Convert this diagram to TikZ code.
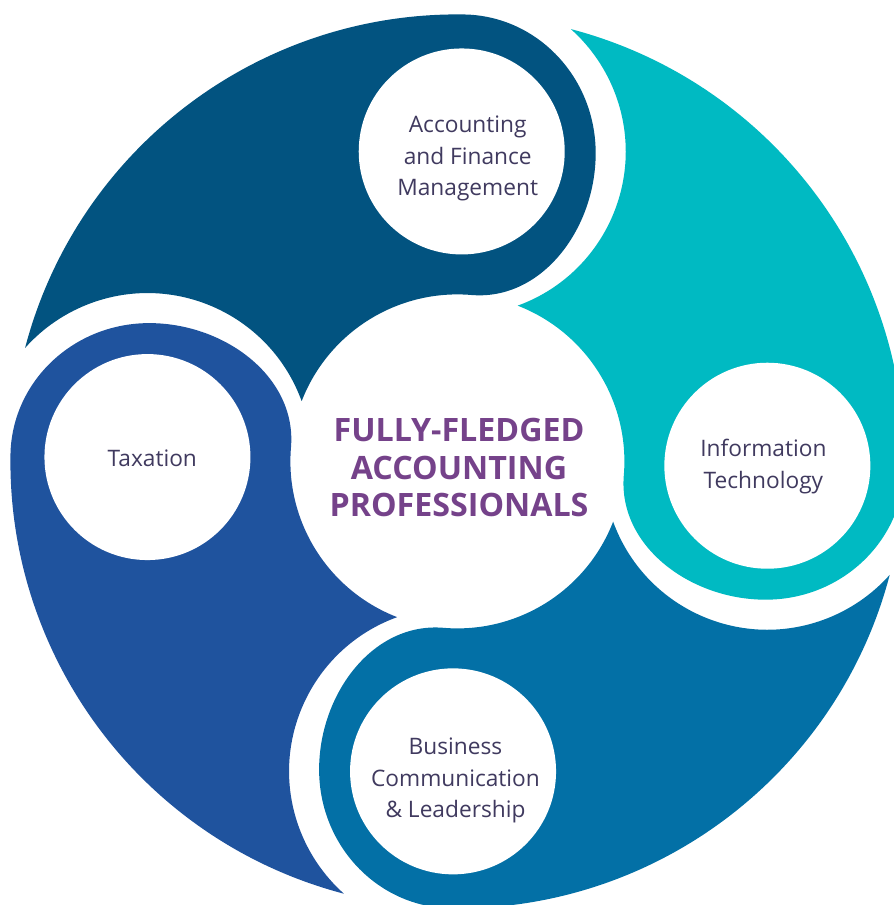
\documentclass[tikz,border=0pt]{standalone}
\usepackage{fontspec}
\setmainfont{Open Sans}
\definecolor{segA}{RGB}{2,83,128}
\definecolor{segI}{RGB}{0,186,194}
\definecolor{segB}{RGB}{3,112,166}
\definecolor{segT}{RGB}{31,83,158}
\definecolor{titlepurple}{RGB}{117,66,138}
\definecolor{labeltext}{RGB}{64,58,95}
\def\swirlpath{(159.65:167pt) arc[start angle=20.74, end angle=139.1, radius=164pt]
  arc[start angle=166.1, end angle=90, radius=447pt]
  .. controls (74pt,447pt) and (134pt,385pt) .. (134pt,308pt)
  .. controls (134pt,233pt) and (81.4pt,161.7pt) .. (86:167pt)
  arc[start angle=86, end angle=159.65, radius=167pt] -- cycle}
\begin{document}
\begin{tikzpicture}[
  disc/.style={circle, fill=white, minimum size=206pt, inner sep=0pt},
  topic/.style={inner sep=0pt, align=center,
    text=labeltext, font=\fontsize{22.7pt}{31.5pt}\selectfont},
  hub/.style={inner sep=0pt, align=center,
    text=titlepurple, font=\bfseries\fontsize{32.2pt}{37.5pt}\selectfont}
]
\useasboundingbox (-457.4pt,-443.6pt) rectangle (436.6pt,461.4pt);
\clip (-457.4pt,-443.6pt) rectangle (436.6pt,461.4pt);
\begin{scope}[rotate=-0.8]\fill[segA] \swirlpath;\end{scope}
\begin{scope}[rotate=-90.8]\fill[segI] \swirlpath;\end{scope}
\begin{scope}[rotate=-180.8]\fill[segB] \swirlpath;\end{scope}
\begin{scope}[rotate=89.2]\fill[segT] \swirlpath;\end{scope}
\node[disc] (circA) at (89.2:310pt) {};
\node[disc] (circI) at (-0.8:310pt) {};
\node[disc] (circB) at (-90.8:310pt) {};
\node[disc] (circT) at (179.2:310pt) {};
\node[topic] (acc) at (10.3pt,303pt) {Accounting\\and Finance\\Management};
\node[topic] (it) at (306pt,-5.3pt) {Information\\Technology};
\node[topic] (biz) at (-1.9pt,-319pt) {Business\\Communication\\\& Leadership};
\node[topic] (tax) at (-305.1pt,3.3pt) {Taxation};
\node[hub] (hub) at (1.6pt,-6.5pt) {FULLY-FLEDGED\\ACCOUNTING\\PROFESSIONALS};
\end{tikzpicture}
\end{document}
